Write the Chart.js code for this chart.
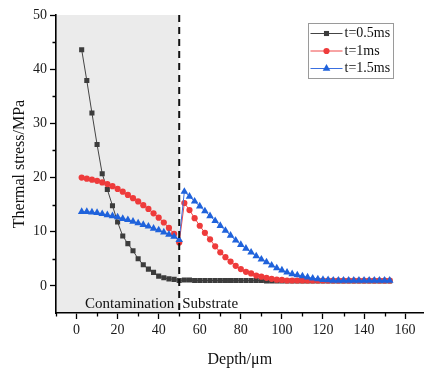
<!DOCTYPE html>
<html>
<head>
<meta charset="utf-8">
<script src="https://cdn.jsdelivr.net/npm/chart.js@4.4.1/dist/chart.umd.min.js"></script>
<style>
  body { margin: 0; background: #fff; }
  #c { display: block; }
</style>
</head>
<body>
<canvas id="c" width="428" height="369"></canvas>
<script>
const depth = [2.5, 5, 7.5, 10, 12.5, 15, 17.5, 20, 22.5, 25, 27.5, 30, 32.5, 35, 37.5, 40, 42.5, 45, 47.5, 50,
  52.5, 55, 57.5, 60, 62.5, 65, 67.5, 70, 72.5, 75, 77.5, 80, 82.5, 85, 87.5, 90, 92.5, 95, 97.5, 100,
  102.5, 105, 107.5, 110, 112.5, 115, 117.5, 120, 122.5, 125, 127.5, 130, 132.5, 135, 137.5, 140, 142.5, 145, 147.5, 150, 152.5];

const stress05 = [43.6, 37.9, 31.9, 26.1, 20.7, 17.8, 14.8, 11.8, 9.2, 7.8, 6.5, 5.0, 3.9, 3.1, 2.5, 1.8, 1.5, 1.3, 1.2, 1.0,
  1.1, 1.1, 1.0, 1.0, 1.0, 1.0, 1.0, 1.0, 1.0, 1.0, 1.0, 1.0, 1.0, 1.0, 1.0, 1.0, 0.9, 0.9, 0.9, 0.9,
  0.9, 0.9, 0.9, 0.9, 0.9, 0.9, 0.9, 0.9, 0.9, 0.9, 0.9, 0.9, 0.9, 0.9, 0.9, 0.9, 0.9, 0.9, 0.9, 0.9, 0.9];

const stress1 = [20.0, 19.8, 19.6, 19.4, 19.1, 18.8, 18.4, 17.9, 17.4, 16.8, 16.2, 15.6, 14.9, 14.2, 13.4, 12.6, 11.7, 10.7, 9.6, 8.0,
  15.3, 14.0, 12.5, 11.1, 9.8, 8.6, 7.3, 6.2, 5.3, 4.5, 3.7, 3.1, 2.6, 2.3, 1.9, 1.7, 1.5, 1.3, 1.15, 1.1,
  1.0, 1.0, 1.0, 1.0, 1.0, 1.0, 1.0, 1.0, 1.0, 1.0, 1.0, 1.0, 1.0, 1.0, 1.0, 1.0, 1.0, 1.0, 1.0, 1.0, 1.0];

const stress15 = [13.7, 13.7, 13.6, 13.5, 13.3, 13.1, 12.9, 12.7, 12.4, 12.2, 11.9, 11.6, 11.3, 11.0, 10.6, 10.3, 9.9, 9.5, 9.1, 8.5,
  17.4, 16.5, 15.6, 14.7, 13.8, 12.9, 12.0, 11.1, 10.2, 9.3, 8.4, 7.6, 6.9, 6.2, 5.5, 4.9, 4.4, 3.8, 3.3, 2.9,
  2.5, 2.2, 2.0, 1.8, 1.6, 1.4, 1.25, 1.15, 1.1, 1.0, 1.0, 1.0, 1.0, 1.0, 1.0, 1.0, 1.0, 1.0, 1.0, 1.0, 1.0];

const seriesLabels = ["t=0.5ms", "t=1ms", "t=1.5ms"];
const regionLabels = ["Contamination", "Substrate"];
const boundary = 50;
const xTicks = [0, 20, 40, 60, 80, 100, 120, 140, 160];
const xMinor = [-10, 10, 30, 50, 70, 90, 110, 130, 150];
const yTicks = [0, 10, 20, 30, 40, 50];
const yMinor = [5, 15, 25, 35, 45];

const serif = "'Liberation Serif', 'Times New Roman', serif";
const toPoints = (vals) => vals.map((v, i) => ({ x: depth[i], y: v }));

const extras = {
  id: "extras",
  beforeDraw(chart) {
    const { ctx, chartArea: a, scales: { x } } = chart;
    ctx.save();
    ctx.fillStyle = "#ebebeb";
    ctx.fillRect(a.left, a.top, x.getPixelForValue(boundary) - a.left, a.bottom - a.top);
    ctx.restore();
  },
  afterDraw(chart) {
    const { ctx, chartArea: a, scales: { x, y } } = chart;
    const xb = x.getPixelForValue(boundary);
    ctx.save();

    // boundary line
    ctx.strokeStyle = "#111";
    ctx.lineWidth = 2;
    ctx.setLineDash([7, 5]);
    ctx.beginPath();
    ctx.moveTo(xb, a.top);
    ctx.lineTo(xb, a.bottom);
    ctx.stroke();
    ctx.setLineDash([]);

    // minor ticks
    ctx.strokeStyle = "#000";
    ctx.lineWidth = 1.3;
    ctx.beginPath();
    xMinor.forEach((v) => {
      const px = Math.round(x.getPixelForValue(v)) + 0.5;
      ctx.moveTo(px, a.bottom);
      ctx.lineTo(px, a.bottom + 3.5);
    });
    yMinor.forEach((v) => {
      const py = Math.round(y.getPixelForValue(v)) + 0.5;
      ctx.moveTo(a.left, py);
      ctx.lineTo(a.left - 3.5, py);
    });
    ctx.stroke();

    // region names
    ctx.fillStyle = "#111";
    ctx.font = "15px " + serif;
    ctx.textBaseline = "middle";
    ctx.textAlign = "right";
    ctx.fillText(regionLabels[0], xb - 5, a.bottom - 9);
    ctx.textAlign = "left";
    ctx.fillText(regionLabels[1], xb + 3, a.bottom - 9);

    // legend
    const lx = 308.5, ly = 23.5;
    ctx.strokeStyle = "#9a9a9a";
    ctx.lineWidth = 1;
    ctx.strokeRect(lx, ly, 85, 55);
    ctx.font = "14px " + serif;
    chart.data.datasets.forEach((ds, i) => {
      const ry = 33.5 + i * 17.5;
      ctx.strokeStyle = ds.borderColor;
      ctx.lineWidth = 1;
      ctx.beginPath();
      ctx.moveTo(lx + 2, ry);
      ctx.lineTo(lx + 34, ry);
      ctx.stroke();
      ctx.fillStyle = ds.pointBackgroundColor;
      ctx.strokeStyle = ds.pointBackgroundColor;
      Chart.helpers.drawPoint(ctx, { pointStyle: ds.pointStyle, radius: ds.pointRadius, rotation: 0, borderWidth: 0 }, lx + 18, ry);
      ctx.fillStyle = "#111";
      ctx.textAlign = "left";
      ctx.fillText(ds.label, lx + 36, ry);
    });
    ctx.restore();
  }
};

new Chart(document.getElementById("c"), {
  type: "line",
  data: {
    datasets: [
      {
        label: seriesLabels[0],
        data: toPoints(stress05),
        borderColor: "#444444",
        pointBackgroundColor: "#3c3c3c",
        pointBorderWidth: 0,
        pointStyle: "rect",
        pointRadius: 3.6,
        borderWidth: 1,
        order: 2
      },
      {
        label: seriesLabels[1],
        data: toPoints(stress1),
        borderColor: "#f04848",
        pointBackgroundColor: "#ee3b3b",
        pointBorderWidth: 0,
        pointStyle: "circle",
        pointRadius: 3.1,
        borderWidth: 1,
        order: 1
      },
      {
        label: seriesLabels[2],
        data: toPoints(stress15),
        borderColor: "#3a6fe0",
        pointBackgroundColor: "#1f62db",
        pointBorderWidth: 0,
        pointStyle: "triangle",
        pointRadius: 4.4,
        borderWidth: 1,
        order: 0
      }
    ]
  },
  options: {
    responsive: false,
    animation: false,
    devicePixelRatio: 1,
    layout: { padding: { top: 15, right: 0, left: 0, bottom: 0 } },
    plugins: { legend: { display: false }, tooltip: { enabled: false } },
    scales: {
      x: {
        type: "linear",
        min: -10,
        max: 169,
        afterBuildTicks: (s) => { s.ticks = xTicks.map((v) => ({ value: v })); },
        afterFit: (s) => { s.height = 56; },
        grid: { display: true, drawOnChartArea: false, drawTicks: true, tickLength: 6, tickColor: "#000", tickWidth: 1.3 },
        border: { display: true, color: "#000", width: 1.6 },
        ticks: { color: "#1a1a1a", font: { family: serif, size: 14 }, padding: 3, maxRotation: 0 },
        title: { display: true, text: "Depth/μm", color: "#111", font: { family: serif, size: 16 }, padding: { top: 0, bottom: 0 } }
      },
      y: {
        min: -5,
        max: 50,
        afterBuildTicks: (s) => { s.ticks = yTicks.map((v) => ({ value: v })); },
        afterFit: (s) => { s.width = 56; },
        grid: { display: true, drawOnChartArea: false, drawTicks: true, tickLength: 6, tickColor: "#000", tickWidth: 1.3 },
        border: { display: true, color: "#000", width: 1.6 },
        ticks: { color: "#1a1a1a", font: { family: serif, size: 14 }, padding: 3 },
        title: { display: true, text: "Thermal stress/MPa", color: "#111", font: { family: serif, size: 16 }, padding: { top: 10.5, bottom: 0 } }
      }
    }
  },
  plugins: [extras]
});
</script>
</body>
</html>
